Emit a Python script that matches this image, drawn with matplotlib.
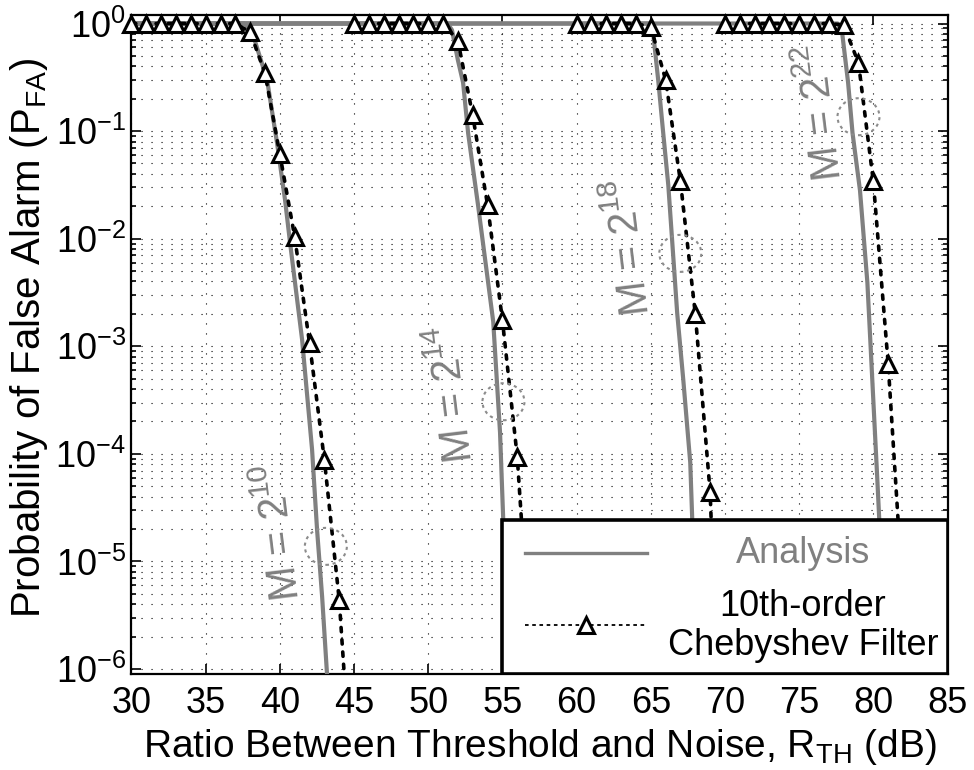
import matplotlib
matplotlib.use("Agg")
import matplotlib.pyplot as plt
import matplotlib.transforms as mtransforms
from matplotlib.patches import Ellipse, Rectangle
from matplotlib.ticker import LogLocator, MultipleLocator, NullFormatter
import numpy as np

plt.rcParams['font.family'] = ['Liberation Sans', 'DejaVu Sans']
plt.rcParams['mathtext.default'] = 'regular'
plt.rcParams['axes.unicode_minus'] = False

GRAY = '#808080'

# --- 10th-order Chebyshev filter (simulation, one marker per dB) ---
cheb_x_m10 = list(range(30, 46))
cheb_p_m10 = [1, 1, 1, 1, 1, 1, 1, 1, 0.83, 0.344, 0.061, 0.0104, 1.07e-3, 8.8e-5, 4.4e-6, 4e-8]
cheb_x_m14 = list(range(45, 58))
cheb_p_m14 = [1, 1, 1, 1, 1, 1, 1, 0.69, 0.14, 0.0205, 1.75e-3, 9.4e-5, 8e-7]
cheb_x_m18 = list(range(60, 71))
cheb_p_m18 = [1, 1, 1, 1, 1, 0.93, 0.30, 0.034, 2.0e-3, 4.4e-5, 1e-8]
cheb_x_m22 = list(range(70, 84))
cheb_p_m22 = [1, 1, 1, 1, 1, 1, 1, 1, 0.97, 0.43, 0.034, 6.9e-4, 4.6e-6, 1e-8]

# --- Analysis ---
ana_x_m10 = [30, 37.6, 38.13, 39.14, 39.81, 40.35, 40.69, 41.50, 42.17, 42.51, 42.85, 43.18, 43.6]
ana_p_m10 = [1, 1, 0.834, 0.2985, 0.0776, 0.0229, 9.1e-3, 1.15e-3, 1.1e-4, 1.95e-5, 4.68e-6, 8.9e-7, 1e-7]
ana_x_m14 = [30, 51.3, 51.6, 52.0, 52.35, 52.69, 53.36, 54.38, 54.84, 55.05, 55.3]
ana_p_m14 = [1, 1, 0.87, 0.457, 0.282, 0.0955, 0.0204, 1.7e-3, 1.58e-4, 2.57e-5, 5e-7]
ana_x_m18 = [30, 64.85, 65.16, 65.50, 65.84, 66.18, 66.78, 67.19, 67.66, 67.79, 67.95]
ana_p_m18 = [1, 1, 0.817, 0.2985, 0.0955, 0.0316, 2.04e-3, 4.9e-4, 8.3e-5, 2.57e-5, 5e-7]
ana_x_m22 = [30, 77.6, 77.9, 78.3, 78.6, 79.1, 79.6, 80.27, 80.4, 80.6]
ana_p_m22 = [1, 1, 0.817, 0.282, 0.0955, 0.0282, 3.9e-3, 5.75e-5, 2.45e-5, 5e-7]

# annotation labels: text anchor and circled crossing point
m_labels = ['M = 2$^{10}$', 'M = 2$^{14}$', 'M = 2$^{18}$', 'M = 2$^{22}$']
label_x = [40.05, 51.7, 63.6, 76.6]
label_p = [1.9e-5, 3.6e-4, 8.5e-3, 0.15]
circle_x = [43.1, 55.07, 66.99, 79.0]
circle_p = [1.38e-5, 3.05e-4, 7.3e-3, 0.136]

ylo, yhi = 10 ** -6.042, 10 ** 0.079

fig = plt.figure(figsize=(9.74, 7.70), dpi=100)
ax = fig.add_axes([0.135, 0.1253, 0.8378, 0.8552])
ax.set_yscale('log')

analysis = [(ana_x_m10, ana_p_m10), (ana_x_m14, ana_p_m14),
            (ana_x_m18, ana_p_m18), (ana_x_m22, ana_p_m22)]
cheb = [(cheb_x_m10, cheb_p_m10), (cheb_x_m14, cheb_p_m14),
        (cheb_x_m18, cheb_p_m18), (cheb_x_m22, cheb_p_m22)]

for x, p in analysis:
    ax.plot(x, p, color=GRAY, lw=3.0, solid_joinstyle='round', zorder=3)

for x, p in cheb:
    ax.plot(x, p, color='k', lw=2.6, dashes=(1.2, 2.2), dash_capstyle='round', zorder=4)
    x = np.array(x, dtype=float)
    p = np.array(p, dtype=float)
    keep = p >= ylo
    ax.plot(x[keep], p[keep], ls='none', marker='^', ms=12, mfc='white', mec='k',
            mew=2.2, clip_on=False, zorder=5)

# M labels and dotted circles
for txt, tx, tp in zip(m_labels, label_x, label_p):
    ax.text(tx, tp, txt, rotation=97, color=GRAY, fontsize=30, ha='center', va='center', zorder=6)
for cx, cp in zip(circle_x, circle_p):
    trans = fig.dpi_scale_trans + mtransforms.ScaledTranslation(cx, cp, ax.transData)
    ax.add_patch(Ellipse((0, 0), 0.42, 0.37, transform=trans, fill=False,
                         edgecolor='#8c8c8c', lw=1.5, linestyle=(0, (1.5, 1.8)), zorder=6))

ax.set_xlim(30, 85)
ax.set_ylim(ylo, yhi)
ax.xaxis.set_major_locator(MultipleLocator(5))
ax.yaxis.set_major_locator(LogLocator(base=10, numticks=20))
ax.yaxis.set_minor_locator(LogLocator(base=10, subs=np.arange(2, 10), numticks=100))
ax.yaxis.set_minor_formatter(NullFormatter())

ax.grid(True, which='major', axis='x', color='k', linestyle=(0, (1, 8)), linewidth=0.8, zorder=1)
ax.grid(True, which='both', axis='y', color='k', linestyle=(0, (1, 8)), linewidth=0.8, zorder=1)
ax.set_axisbelow(True)

ax.tick_params(which='both', direction='in', top=True, right=True, width=1.2,
               labelsize=26, colors='k')
ax.tick_params(which='major', length=7)
ax.tick_params(axis='x', which='major', pad=9)
ax.tick_params(axis='y', which='major', pad=4)
ax.tick_params(which='minor', length=3.5)
for s in ax.spines.values():
    s.set_linewidth(1.6)

ax.set_xlabel('Ratio Between Threshold and Noise, R$_{TH}$ (dB)', fontsize=28, labelpad=4)
ax.set_ylabel('Probability of False Alarm (P$_{FA}$)', fontsize=29)
ax.yaxis.set_label_coords(-0.1, 0.51)

# legend box drawn by hand (lower right)
ax.add_patch(Rectangle((0.454, 0.0), 0.546, 0.233, transform=ax.transAxes,
                       facecolor='white', edgecolor='k', lw=2.6, zorder=10))
ax.plot([0.482, 0.632], [0.183, 0.183], transform=ax.transAxes, color=GRAY, lw=2.4, zorder=11)
ax.plot([0.482, 0.632], [0.0737, 0.0737], transform=ax.transAxes, color='k', lw=1.3,
        dashes=(2, 2), zorder=11)
ax.plot([0.557], [0.0737], transform=ax.transAxes, ls='none', marker='^', ms=12,
        mfc='white', mec='k', mew=2.2, zorder=12)
ax.text(0.823, 0.183, 'Analysis', transform=ax.transAxes, color=GRAY, fontsize=26,
        ha='center', va='center', zorder=12)
ax.text(0.823, 0.072, '10th-order\nChebyshev Filter', transform=ax.transAxes, color='k',
        fontsize=26, ha='center', va='center', multialignment='center', linespacing=1.15,
        zorder=12)

ax.set_xlim(30, 85)
ax.set_ylim(ylo, yhi)

fig.savefig('out.png', dpi=100)
plt.close(fig)
